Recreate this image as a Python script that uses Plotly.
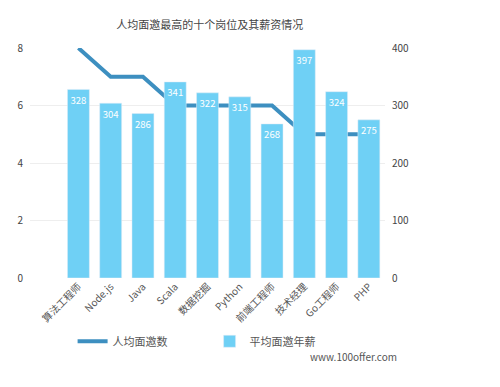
import plotly.graph_objects as go

categories = ["算法工程师", "Node.js", "Java", "Scala", "数据挖掘", "Python", "前端工程师", "技术经理", "Go工程师", "PHP"]
salary = [328, 304, 286, 341, 322, 315, 268, 397, 324, 275]
invites = [8, 7, 7, 6, 6, 6, 6, 5, 5, 5]
left_ticks = [0, 2, 4, 6, 8]
right_ticks = [0, 100, 200, 300, 400]

FONT = "Noto Sans CJK SC, Noto Sans, sans-serif"

fig = go.Figure()
fig.add_trace(go.Bar(
    x=categories, y=salary, name="平均面邀年薪", yaxis="y2",
    marker=dict(color="#6fd0f5"), width=0.68,
    text=[str(v) for v in salary], textposition="inside", insidetextanchor="end", textangle=0,
    textfont=dict(color="white", size=11, family=FONT),
    legendrank=2,
))
fig.add_trace(go.Scatter(
    x=categories, y=invites, name="人均面邀数", yaxis="y",
    mode="lines", line=dict(color="#3d8fc0", width=4), legendrank=1,
))

fig.update_layout(
    width=492, height=379,
    paper_bgcolor="white", plot_bgcolor="white",
    margin=dict(l=22, r=115, t=40, b=109, autoexpand=False),
    font=dict(family=FONT, color="#555555", size=10),
    title=dict(text="人均面邀最高的十个岗位及其薪资情况", x=0.41, xanchor="center", y=0.955, yanchor="middle",
               font=dict(size=11, color="#444444", family=FONT)),
    xaxis=dict(range=[-1.5, 9.5], tickangle=-45, showgrid=False, showline=False, ticks="",
               tickfont=dict(size=10, color="#555555"), automargin=False),
    yaxis=dict(range=[0, 8], tickvals=left_ticks, showgrid=True, gridcolor="#eeeeee", gridwidth=1,
               zeroline=False, ticks="", tickfont=dict(size=10, color="#444444"), ticklabelstandoff=6,
               automargin=False),
    yaxis2=dict(range=[0, 400], tickvals=right_ticks, overlaying="y", side="right", showgrid=False,
                zeroline=False, ticks="", tickfont=dict(size=10, color="#444444"), ticklabelstandoff=6,
                automargin=False),
    showlegend=True,
    legend=dict(orientation="h", x=0.12, y=-0.275, xanchor="left", yanchor="middle",
                font=dict(size=11, color="#555555"), entrywidth=92, itemwidth=30),
    annotations=[dict(text="www.100offer.com", xref="paper", yref="paper", x=1.04, y=-0.34,
                      xanchor="right", yanchor="middle", showarrow=False,
                      font=dict(size=10, color="#555555"))],
)

fig.write_html("out.html")
